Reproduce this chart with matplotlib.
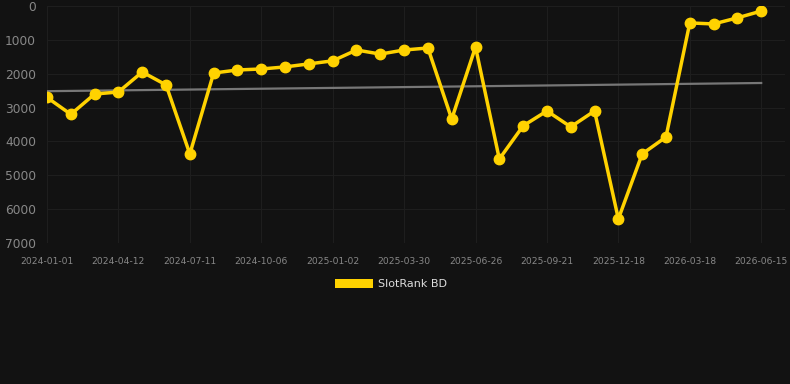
import numpy as np
import matplotlib
matplotlib.use("Agg")
import matplotlib.pyplot as plt
from matplotlib.patches import Patch

# tick labels (every 3rd point)
dates = ["2024-01-01", "2024-04-12", "2024-07-11", "2024-10-06", "2025-01-02",
         "2025-03-30", "2025-06-26", "2025-09-21", "2025-12-18", "2026-03-18",
         "2026-06-15"]

# rank values, one per point
rank = [2700, 3200, 2600, 2540, 1950, 2330, 4370, 1980, 1890, 1860,
        1800, 1710, 1620, 1300, 1420, 1300, 1240, 3340, 1210, 4520,
        3540, 3100, 3570, 3100, 6290, 4370, 3870, 500, 530, 350, 150]

bg = "#121212"
gold = "#ffd200"

x = np.arange(len(rank))
y = np.array(rank)

fig = plt.figure(figsize=(7.9, 3.84), dpi=100, facecolor=bg)
ax = fig.add_axes([47/790, 1-243/384, (785-47)/790, (243-6)/384])
ax.set_facecolor(bg)

# trend line
k, b = np.polyfit(x, y, 1)
ax.plot([x[0], x[-1]], [k*x[0]+b, k*x[-1]+b], color="#777777", lw=1.6, zorder=2)

ax.plot(x, y, color=gold, lw=2.5, marker="o", ms=7.5, zorder=3)

ax.set_ylim(7000, 0)
ax.set_xlim(0, 31)
ax.set_yticks(range(0, 7001, 1000))
ax.set_xticks(x[::3])
ax.set_xticklabels(dates)

ax.grid(True, color="#1e1e1e", lw=0.8)
for s in ax.spines.values():
    s.set_visible(False)
ax.tick_params(axis="both", length=0, colors="#888888")
ax.tick_params(axis="x", labelsize=6.6, pad=10)
ax.tick_params(axis="y", labelsize=8.8, pad=8)

leg = fig.legend(handles=[Patch(facecolor=gold, label="SlotRank BD")],
                 loc="center", bbox_to_anchor=(391/790, 1-284/384),
                 frameon=False, fontsize=8, handlelength=3.4, handleheight=0.9,
                 handletextpad=0.5)
for t in leg.get_texts():
    t.set_color("#dddddd")

fig.savefig("out.png", facecolor=bg)
